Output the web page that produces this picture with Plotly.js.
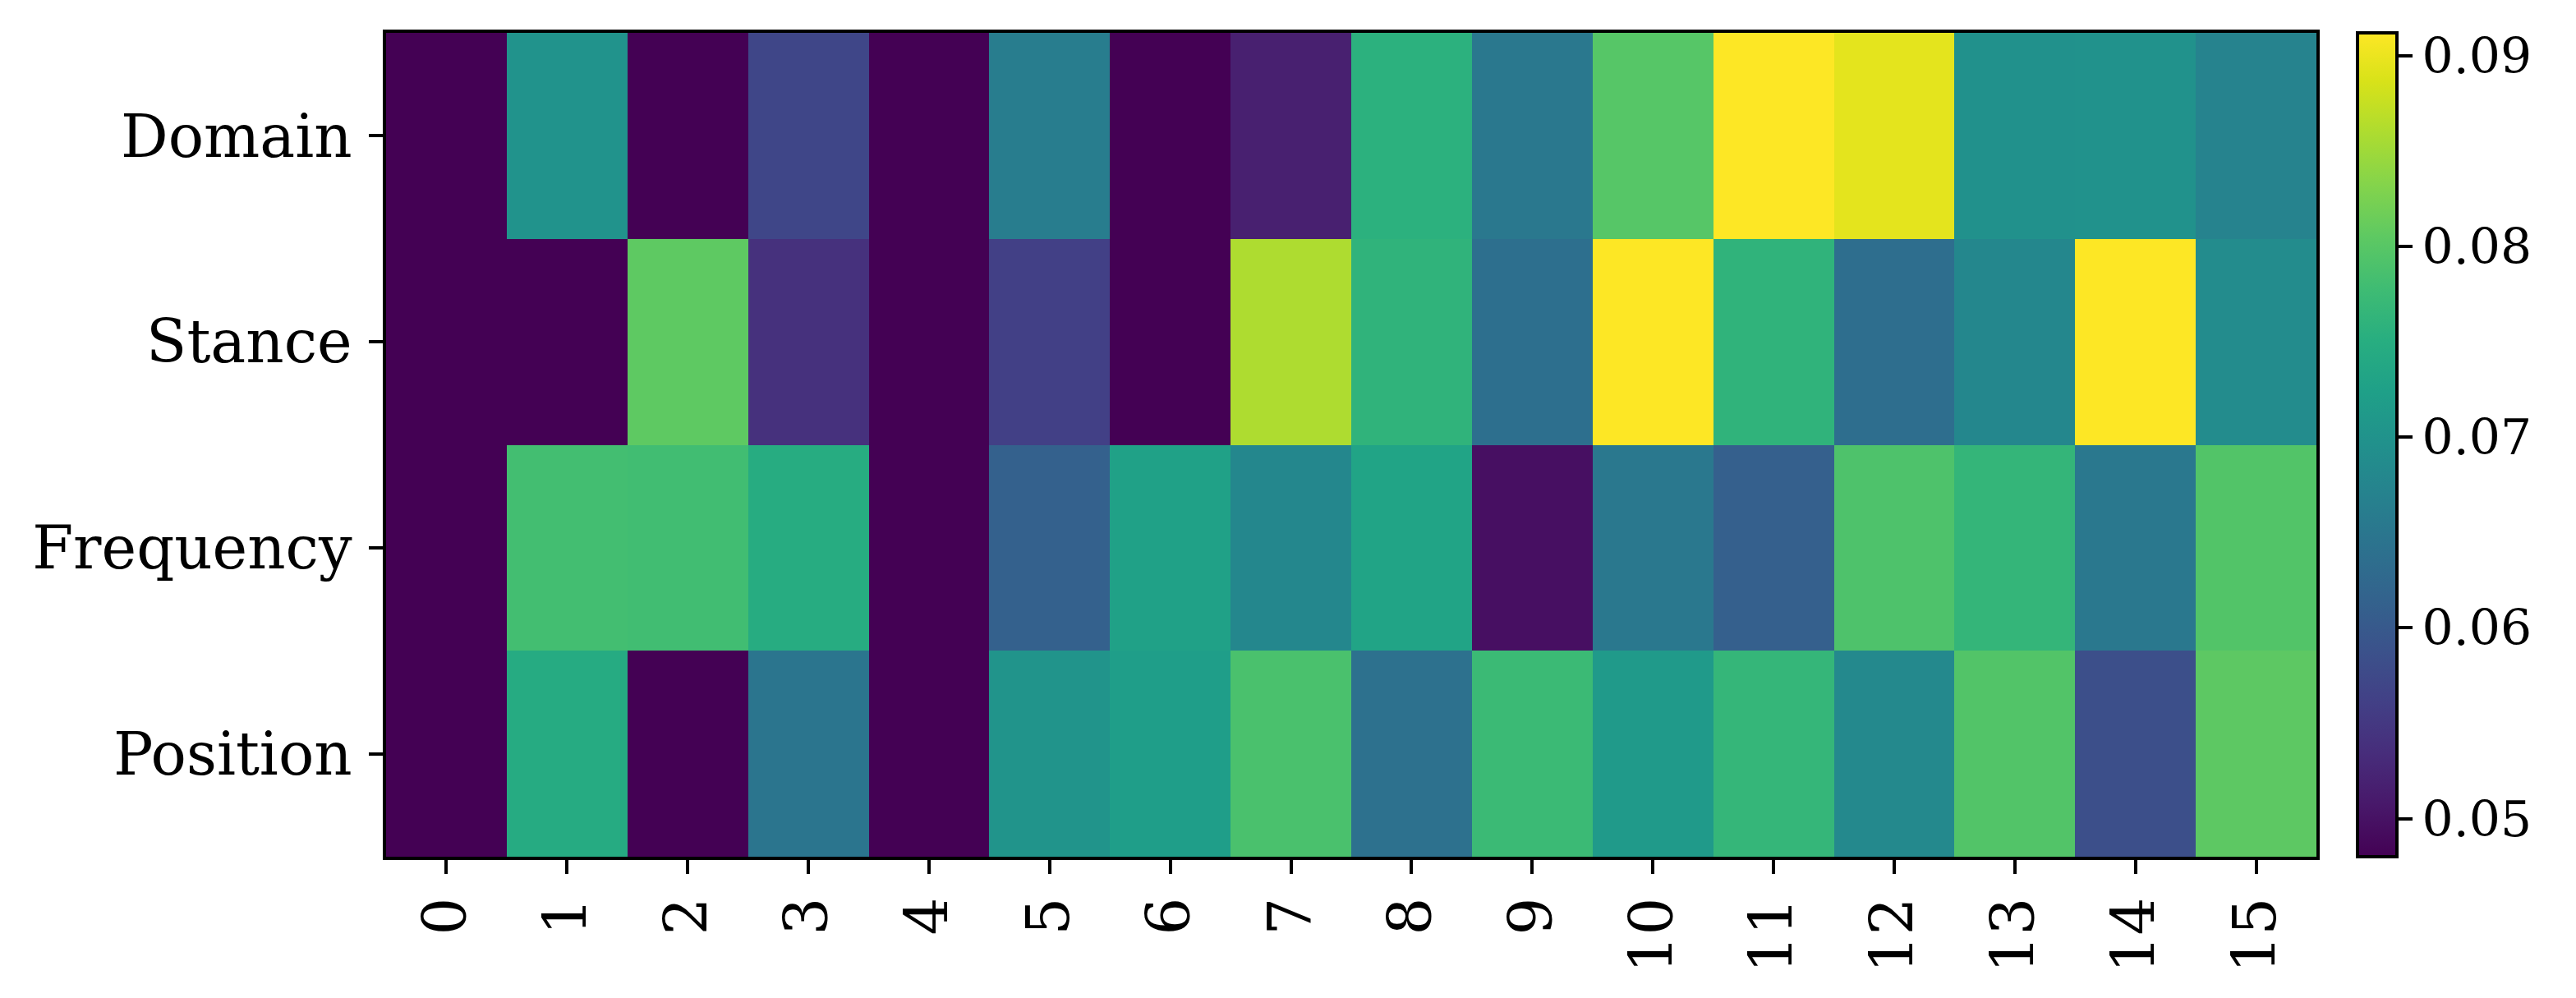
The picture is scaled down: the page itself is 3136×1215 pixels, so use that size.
<!DOCTYPE html>
<html>
<head>
<meta charset="utf-8">
<script src="https://cdn.plot.ly/plotly-3.0.1.min.js"></script>
<style>
  body { margin: 0; background: #fff; }
  #heat { width: 3136px; height: 1215px; }
</style>
</head>
<body>
<div id="heat"></div>
<script>
// columns 0..15, rows top to bottom
var cols = [0, 1, 2, 3, 4, 5, 6, 7, 8, 9, 10, 11, 12, 13, 14, 15];
var rows = ['Domain', 'Stance', 'Frequency', 'Position'];

var domain    = [0.048, 0.0700, 0.048, 0.0571, 0.048, 0.0661, 0.048, 0.0517, 0.0756, 0.0652, 0.0798, 0.0912, 0.0895, 0.0696, 0.0698, 0.0672];
var stance    = [0.048, 0.048, 0.0805, 0.0540, 0.048, 0.0562, 0.048, 0.0860, 0.0761, 0.0638, 0.0912, 0.0761, 0.0636, 0.0678, 0.0912, 0.0688];
var frequency = [0.048, 0.0782, 0.0780, 0.0748, 0.048, 0.0612, 0.0726, 0.0678, 0.0731, 0.0497, 0.0653, 0.0610, 0.0791, 0.0765, 0.0653, 0.0795];
var position  = [0.048, 0.0745, 0.048, 0.0648, 0.048, 0.0702, 0.0720, 0.0788, 0.0640, 0.0774, 0.0713, 0.0766, 0.0683, 0.0795, 0.0584, 0.0804];

var cbTicks = [0.05, 0.06, 0.07, 0.08, 0.09];

var trace = {
  type: 'heatmap',
  x: cols,
  y: rows,
  z: [domain, stance, frequency, position],
  colorscale: 'Viridis',
  zmin: 0.048,
  zmax: 0.0912,
  hoverinfo: 'none',
  colorbar: {
    x: 1.0213,
    xanchor: 'left',
    xpad: 0,
    y: 0.5,
    yanchor: 'middle',
    ypad: 0,
    len: 1,
    lenmode: 'fraction',
    thickness: 48,
    outlinewidth: 4,
    outlinecolor: '#000',
    tickvals: cbTicks,
    tickformat: '.2f',
    ticks: 'outside',
    ticklen: 17,
    tickwidth: 4,
    tickcolor: '#000',
    tickfont: {family: 'DejaVu Serif', size: 60, color: '#000'}
  }
};

var layout = {
  width: 3136,
  height: 1215,
  margin: {l: 470, r: 316, t: 40, b: 172},
  paper_bgcolor: '#fff',
  plot_bgcolor: '#fff',
  font: {family: 'DejaVu Serif', color: '#000'},
  xaxis: {
    tickvals: cols,
    ticktext: cols.map(String),
    tickangle: -90,
    ticks: 'outside',
    ticklen: 17,
    tickwidth: 4,
    tickcolor: '#000',
    showline: true,
    mirror: true,
    linewidth: 4,
    linecolor: '#000',
    showgrid: false,
    zeroline: false,
    range: [-0.5, 15.5],
    tickfont: {family: 'DejaVu Serif', size: 72, color: '#000'}
  },
  yaxis: {
    type: 'category',
    autorange: 'reversed',
    ticks: 'outside',
    ticklen: 17,
    tickwidth: 4,
    tickcolor: '#000',
    ticklabelstandoff: 6,
    showline: true,
    mirror: true,
    linewidth: 4,
    linecolor: '#000',
    showgrid: false,
    zeroline: false,
    tickfont: {family: 'DejaVu Serif', size: 72, color: '#000'}
  }
};

Plotly.newPlot('heat', [trace], layout, {displayModeBar: false, staticPlot: true});
</script>
</body>
</html>
